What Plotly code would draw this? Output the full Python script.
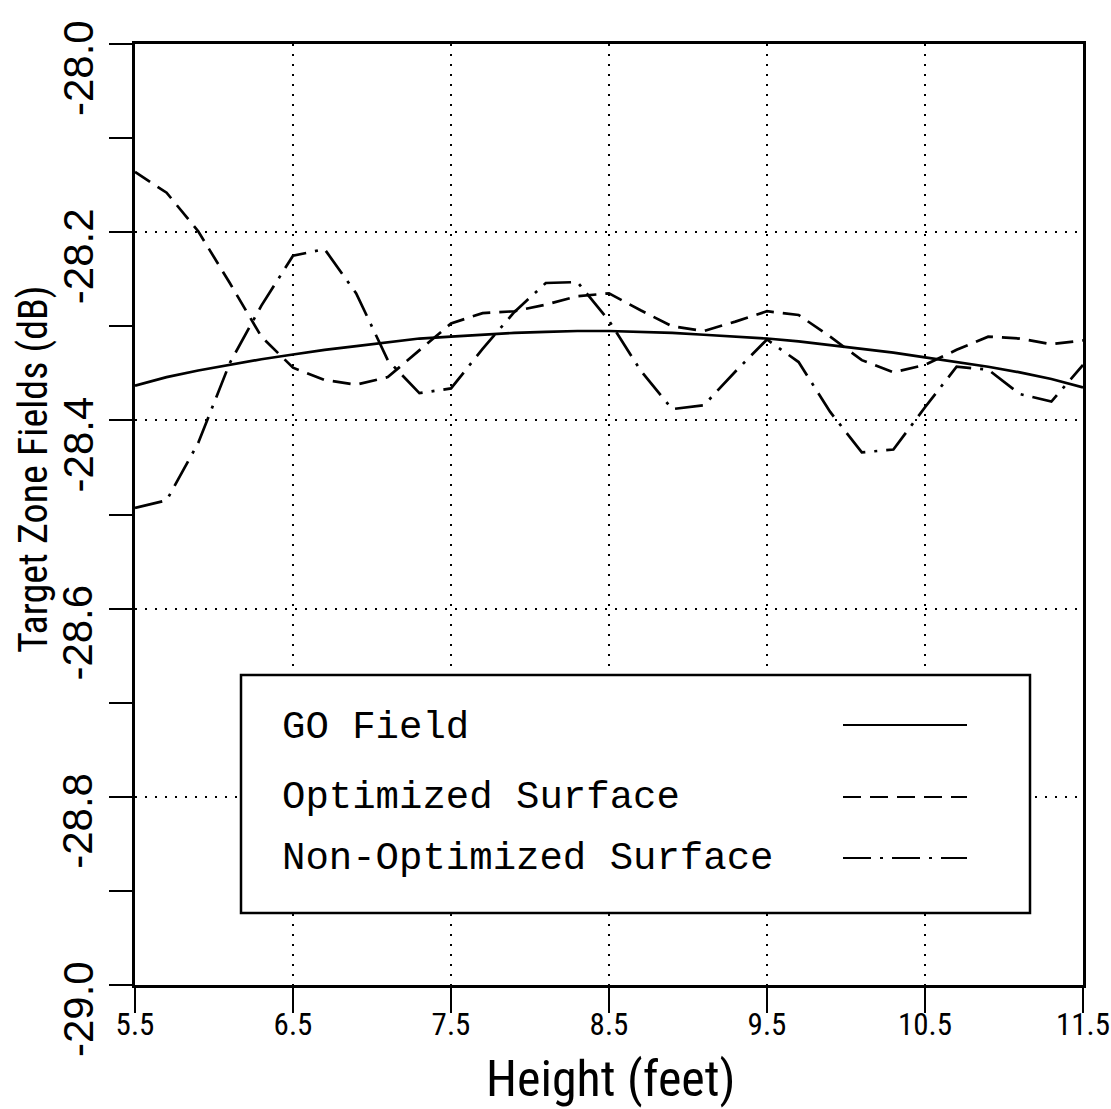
import plotly.graph_objects as go

# Height along the target zone (feet)
heights = [5.5, 5.7, 5.9, 6.1, 6.3, 6.5, 6.7, 6.9, 7.1, 7.3, 7.5,
           7.7, 7.9, 8.1, 8.3, 8.5, 8.7, 8.9, 9.1, 9.3, 9.5,
           9.7, 9.9, 10.1, 10.3, 10.5, 10.7, 10.9, 11.1, 11.3, 11.5]

# Target zone fields (dB)
go_field = [-28.363, -28.354, -28.347, -28.341, -28.335, -28.330, -28.325, -28.321,
            -28.317, -28.313, -28.311, -28.309, -28.307, -28.306, -28.305, -28.305,
            -28.306, -28.307, -28.309, -28.311, -28.313, -28.316, -28.320, -28.324,
            -28.328, -28.333, -28.338, -28.343, -28.349, -28.356, -28.365]

optimized = [-28.136, -28.158, -28.199, -28.254, -28.311, -28.344, -28.357, -28.362,
             -28.354, -28.325, -28.297, -28.286, -28.284, -28.277, -28.268, -28.265,
             -28.283, -28.300, -28.305, -28.295, -28.284, -28.288, -28.311, -28.336,
             -28.349, -28.341, -28.325, -28.311, -28.313, -28.319, -28.315]

non_optimized = [-28.493, -28.485, -28.424, -28.339, -28.278, -28.225, -28.218, -28.265,
                 -28.336, -28.371, -28.366, -28.324, -28.285, -28.254, -28.253, -28.294,
                 -28.347, -28.388, -28.384, -28.348, -28.314, -28.338, -28.391, -28.434,
                 -28.431, -28.386, -28.343, -28.346, -28.372, -28.380, -28.341]

x_ticks = [5.5, 6.5, 7.5, 8.5, 9.5, 10.5, 11.5]
x_tick_text = ["5.5", "6.5", "7.5", "8.5", "9.5", "10.5", "11.5"]
y_ticks = [-29.0, -28.8, -28.6, -28.4, -28.2, -28.0]
y_tick_text = ["-29.0", "-28.8", "-28.6", "-28.4", "-28.2", "-28.0"]
y_minor = [-28.9, -28.7, -28.5, -28.3, -28.1]

series_names = ["GO Field", "Optimized Surface", "Non-Optimized Surface"]
DASHES = ["solid", "18px,9px", "28px,9px,3px,9px"]

NARROW = "Roboto Condensed, Liberation Sans Narrow, Liberation Sans, Arial, sans-serif"
SANS = "Liberation Sans, Arial, sans-serif"
MONO = "Liberation Mono, Courier New, monospace"

W, H = 1111, 1109
L, R, T, B = 135, 28, 44, 124
PW, PH = W - L - R, H - T - B
Y0, Y1 = -29.0, -28.0


def px(xp):
    return (xp - L) / PW


def py(yp):
    return (H - B - yp) / PH


fig = go.Figure()
for name, ys, dash in zip(series_names, [go_field, optimized, non_optimized], DASHES):
    fig.add_trace(go.Scatter(x=heights, y=ys, mode="lines", name=name,
                             line=dict(color="black", width=2.7, dash=dash),
                             showlegend=False))

fig.update_layout(
    width=W, height=H,
    margin=dict(l=L, r=R, t=T, b=B, pad=0, autoexpand=False),
    paper_bgcolor="white", plot_bgcolor="white",
    xaxis=dict(range=[5.5, 11.5], tickmode="array", tickvals=x_ticks, ticktext=x_tick_text,
               ticks="outside", ticklen=25, tickwidth=2, tickcolor="black",
               showline=True, linecolor="black", linewidth=3, mirror=True,
               showgrid=True, gridcolor="black", gridwidth=2, griddash="2px,8px",
               zeroline=False, automargin=False,
               ticklabeloverflow="allow", ticklabelstandoff=-15,
               tickfont=dict(family=NARROW, size=31, color="black")),
    yaxis=dict(range=[Y0, Y1], tickmode="array", tickvals=y_ticks,
               showticklabels=False, automargin=False,
               ticks="outside", ticklen=23, tickwidth=2, tickcolor="black",
               showline=True, linecolor="black", linewidth=3, mirror=True,
               showgrid=True, gridcolor="black", gridwidth=2, griddash="2px,8px",
               zeroline=False,
               minor=dict(tickmode="array", tickvals=y_minor, ticks="outside", ticklen=23,
                          tickwidth=2, tickcolor="black", showgrid=False)),
)

# vertical value labels along the left axis, sitting a little below each tick
# (kept inside the page at the top end)
for val, txt in zip(y_ticks, y_tick_text):
    tick_px = T + (Y1 - val) / (Y1 - Y0) * PH
    shift = max(24, 50 - tick_px)
    fig.add_annotation(text=txt, xref="paper", yref="y", x=px(78), y=val, yshift=-shift,
                       showarrow=False, textangle=-90, xanchor="center", yanchor="middle",
                       font=dict(family=SANS, size=42, color="black"))

# axis titles
fig.add_annotation(text="Height (feet)", xref="paper", yref="paper",
                   x=px(611), y=py(1079), showarrow=False, xanchor="center", yanchor="middle",
                   font=dict(family=NARROW, size=50, color="black"))
fig.add_annotation(text="Target Zone Fields (dB)", xref="paper", yref="paper",
                   x=px(33), y=py(469), showarrow=False, textangle=-90,
                   xanchor="center", yanchor="middle",
                   font=dict(family=NARROW, size=40, color="black"))

# legend box with labels on the left and line samples on the right
fig.add_shape(type="rect", xref="paper", yref="paper", layer="above",
              x0=px(241), x1=px(1030), y0=py(913), y1=py(675),
              fillcolor="white", line=dict(color="black", width=2.5))
label_rows = [728, 798, 859]
sample_rows = [725, 797, 858]
for name, dash, ty, sy in zip(series_names, DASHES, label_rows, sample_rows):
    fig.add_annotation(text=name, xref="paper", yref="paper", x=px(280), y=py(ty),
                       showarrow=False, xanchor="left", yanchor="middle",
                       font=dict(family=MONO, size=39, color="black"))
    fig.add_shape(type="line", xref="paper", yref="paper", layer="above",
                  x0=px(843), x1=px(967), y0=py(sy), y1=py(sy),
                  line=dict(color="black", width=2.2, dash=dash))

fig.write_html("out.html")
